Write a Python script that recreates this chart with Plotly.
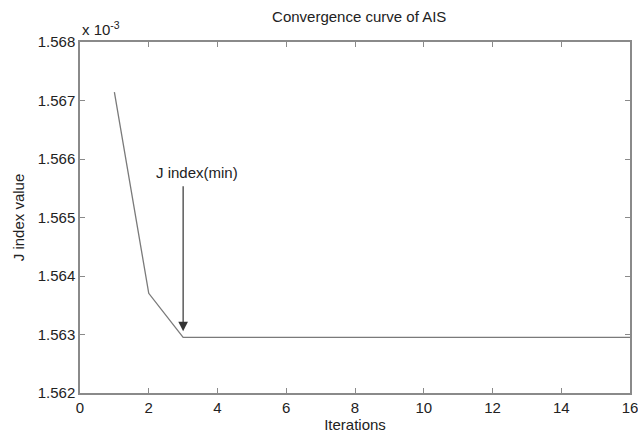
import plotly.graph_objects as go

iterations = list(range(1, 17))
j_values = [1.567145, 1.563704, 1.562952] + [1.562952] * 13  # units of 1e-3
x_ticks = [0, 2, 4, 6, 8, 10, 12, 14, 16]
y_ticks = [1.562, 1.563, 1.564, 1.565, 1.566, 1.567, 1.568]
y_tick_labels = ["1.562", "1.563", "1.564", "1.565", "1.566", "1.567", "1.568"]
min_iter = 3
min_val = j_values[2]
arrow_tail_val = 1.56556

font = dict(family="Liberation Sans, Arial, sans-serif", size=15, color="#222")

fig = go.Figure()
fig.add_trace(go.Scatter(x=iterations, y=j_values, mode="lines",
                         line=dict(color="#7a7a7a", width=1.3), showlegend=False))

axis_common = dict(showgrid=False, zeroline=False, showline=True, linecolor="#8a8a8a",
                   linewidth=1.5, mirror="ticks", ticks="inside", ticklen=5,
                   tickcolor="#8a8a8a", tickfont=font, automargin=False,
                   ticklabeloverflow="allow")
fig.update_xaxes(range=[0, 16], tickvals=x_ticks, title=dict(text="Iterations", font=font, standoff=5),
                 **axis_common)
fig.update_yaxes(range=[1.562, 1.568], tickvals=y_ticks, ticktext=y_tick_labels,
                 title=dict(text="J index value", font=font, standoff=9), **axis_common)

fig.add_annotation(x=min_iter, y=min_val, ax=min_iter, ay=arrow_tail_val,
                   xref="x", yref="y", axref="x", ayref="y", text="",
                   showarrow=True, arrowhead=2, arrowsize=1.6, arrowwidth=1.2,
                   arrowcolor="#333", standoff=6)
fig.add_annotation(x=min_iter + 0.4, y=arrow_tail_val, xref="x", yref="y",
                   text="J index(min)", showarrow=False, yanchor="bottom", yshift=2,
                   font=font)
fig.add_annotation(x=0, y=1, xref="paper", yref="paper", xanchor="left", yanchor="bottom",
                   text="x 10<sup>-3</sup>", showarrow=False, font=font, yshift=2)

fig.update_layout(
    width=638, height=443,
    margin=dict(l=80, r=8, t=42, b=50),
    paper_bgcolor="white", plot_bgcolor="white",
    hovermode=False,
    title=dict(text="Convergence curve of AIS", x=0.563, xanchor="center", y=0.962,
               yanchor="middle", font=font),
)
fig.write_html("out.html", config={"displayModeBar": False},
               post_script="document.body.style.margin='0';document.body.style.overflow='hidden';")
